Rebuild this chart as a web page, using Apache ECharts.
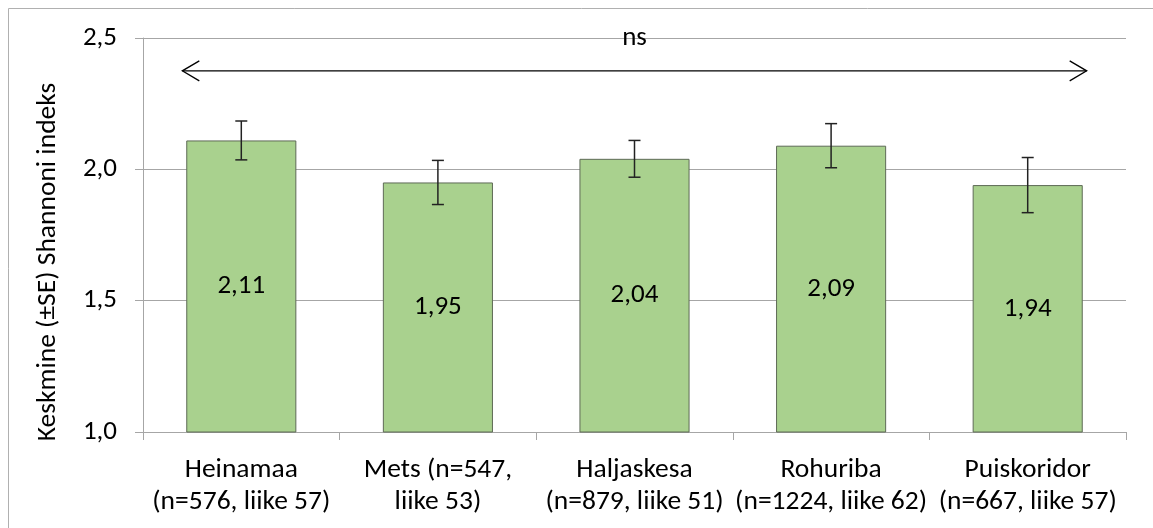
<!DOCTYPE html>
<html>
<head>
<meta charset="utf-8">
<script src="https://cdn.jsdelivr.net/npm/echarts@6/dist/echarts.min.js"></script>
<style>
html,body{margin:0;padding:0;background:#fff;}
#c{width:1153px;height:528px;}
</style>
</head>
<body>
<div id="c"></div>
<script>
const categories = ['Heinamaa\n(n=576, liike 57)', 'Mets (n=547,\nliike 53)', 'Haljaskesa\n(n=879, liike 51)', 'Rohuriba\n(n=1224, liike 62)', 'Puiskoridor\n(n=667, liike 57)'];
const means = [2.11, 1.95, 2.04, 2.09, 1.94];
const seValues = [0.074, 0.084, 0.07, 0.084, 0.105];
const yMin = 1.0, yMax = 2.5, yStep = 0.5;
const yTitle = 'Keskmine (±SE) Shannoni indeks';
const sigText = 'ns';
const arrowLevel = 2.375;

const FONT = 'Carlito, Lato, "Open Sans", sans-serif';
const fmt = v => v.toFixed(2).replace('.', ',');

const chart = echarts.init(document.getElementById('c'), null, {renderer: 'canvas'});
const errData = means.map((m, i) => [i, m - seValues[i], m + seValues[i]]);

chart.setOption({
  animation: false,
  grid: {left: 143, right: 27, top: 38, bottom: 96},
  xAxis: {
    type: 'category',
    data: categories,
    axisLine: {show: true, lineStyle: {color: '#A6A6A6', width: 1}},
    axisTick: {show: true, length: 8, alignWithLabel: false, lineStyle: {color: '#A6A6A6'}},
    axisLabel: {color: '#000', fontSize: 27.5, fontFamily: FONT, lineHeight: 32, margin: 22, interval: 0}
  },
  yAxis: {
    type: 'value',
    min: yMin, max: yMax, interval: yStep,
    axisLine: {show: true, lineStyle: {color: '#A6A6A6', width: 1}},
    axisTick: {show: true, length: 8, lineStyle: {color: '#A6A6A6'}},
    splitLine: {show: true, lineStyle: {color: '#A6A6A6', width: 1}},
    axisLabel: {color: '#000', fontSize: 27, fontFamily: FONT, margin: 26, formatter: v => v.toFixed(1).replace('.', ',')}
  },
  series: [
    {
      type: 'bar',
      data: means,
      barWidth: '56%',
      itemStyle: {color: '#A9D18E', borderColor: '#5E6A56', borderWidth: 1},
      label: {show: true, position: 'inside', color: '#000', fontSize: 27, fontFamily: FONT, formatter: p => fmt(p.value)},
      z: 2
    },
    {
      type: 'custom',
      data: errData,
      clip: false,
      z: 5,
      renderItem: (params, api) => {
        const lo = api.coord([api.value(0), api.value(1)]);
        const hi = api.coord([api.value(0), api.value(2)]);
        const cap = 6;
        const st = {stroke: '#222', lineWidth: 1.5};
        return {
          type: 'group',
          children: [
            {type: 'line', shape: {x1: lo[0], y1: lo[1], x2: hi[0], y2: hi[1]}, style: st},
            {type: 'line', shape: {x1: lo[0] - cap, y1: lo[1], x2: lo[0] + cap, y2: lo[1]}, style: st},
            {type: 'line', shape: {x1: hi[0] - cap, y1: hi[1], x2: hi[0] + cap, y2: hi[1]}, style: st}
          ]
        };
      }
    }
  ]
});

function drawExtras() {
  const c0 = chart.convertToPixel({xAxisIndex: 0}, 0);
  const c1 = chart.convertToPixel({xAxisIndex: 0}, 1);
  const cN = chart.convertToPixel({xAxisIndex: 0}, categories.length - 1);
  const w = c1 - c0;
  const yA = chart.convertToPixel({yAxisIndex: 0}, arrowLevel);
  const yTop = chart.convertToPixel({yAxisIndex: 0}, yMax);
  const yBot = chart.convertToPixel({yAxisIndex: 0}, yMin);
  const xL = c0 - 0.3 * w, xR = cN + 0.3 * w;
  const st = {stroke: '#000', lineWidth: 1.3, fill: null};
  chart.setOption({
    graphic: [
      {type: 'rect', shape: {x: 8.5, y: 8.5, width: 1300, height: 700}, style: {fill: null, stroke: '#B0B0B0', lineWidth: 1}, silent: true, z: 0},
      {type: 'line', shape: {x1: xL, y1: yA, x2: xR, y2: yA}, style: st, z: 10},
      {type: 'polyline', shape: {points: [[xL + 17, yA - 10], [xL, yA], [xL + 17, yA + 10]]}, style: st, z: 10},
      {type: 'polyline', shape: {points: [[xR - 17, yA - 10], [xR, yA], [xR - 17, yA + 10]]}, style: st, z: 10},
      {type: 'text', x: (xL + xR) / 2, y: yTop, style: {text: sigText, fontSize: 27, fontFamily: FONT, fill: '#000', align: 'center', verticalAlign: 'middle'}, z: 10},
      {type: 'text', x: 48, y: (yTop + yBot) / 2 + 27, rotation: Math.PI / 2, style: {text: yTitle, fontSize: 27.5, fontFamily: FONT, fill: '#000', align: 'center', verticalAlign: 'middle'}, z: 10}
    ]
  });
}
drawExtras();
</script>
</body>
</html>
